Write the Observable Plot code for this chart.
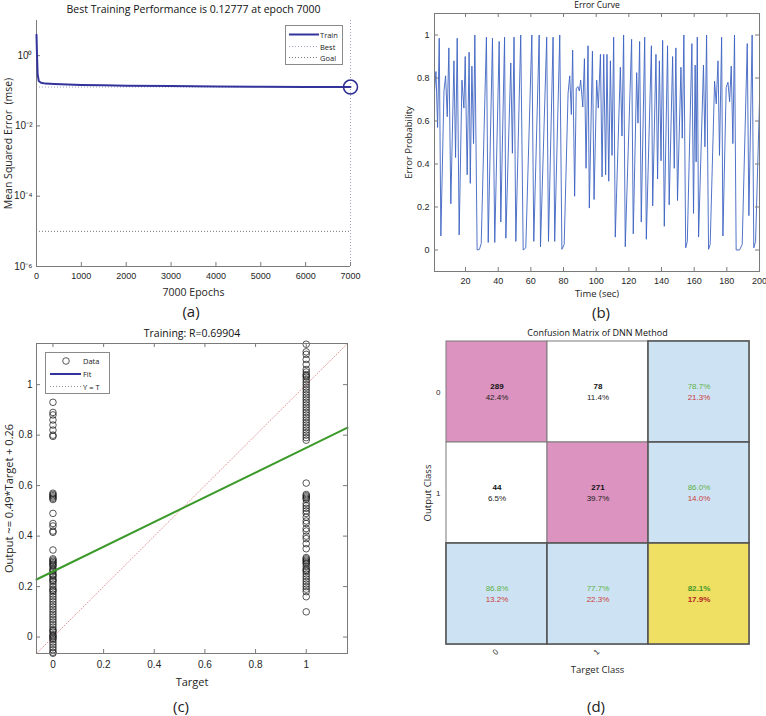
<!DOCTYPE html>
<html><head><meta charset="utf-8">
<script src="https://cdn.jsdelivr.net/npm/d3@7"></script>
<script src="https://cdn.jsdelivr.net/npm/@observablehq/plot@0.6"></script>
<style>
body{margin:0;background:#fff;}
#root{position:relative;width:766px;height:716px;overflow:hidden;background:#fff;}
.panel{position:absolute;}
.cap{position:absolute;font-family:"Open Sans",sans-serif;font-size:15px;color:#222;transform:translate(-50%,-50%);white-space:nowrap;line-height:1;}
.legend{position:absolute;background:#fff;border:1px solid #8a8a8a;box-sizing:border-box;}
.legend svg{display:block;}
</style></head><body><div id="root"></div>
<script>
// ---------- Panel (a) data ----------
const epochs   = [0, 10, 25, 50, 100, 200, 400, 700, 1000, 1500, 2000, 3000, 4000, 5000, 6000, 7000];
const trainMSE = [3.9, 1.2, 0.3, 0.19, 0.17, 0.16, 0.155, 0.15, 0.147, 0.143, 0.14, 0.136, 0.133, 0.131, 0.129, 0.12777];
const bestEpoch = 7000, bestPerf = 0.12777, goalMSE = 1e-5;
const xTicksA = [0, 1000, 2000, 3000, 4000, 5000, 6000, 7000];
const yTicksA = [1e-6, 1e-4, 1e-2, 1];
const yTickLabelsA = ["10⁻⁶", "10⁻⁴", "10⁻²", "10⁰"];
const titleA = "Best Training Performance is 0.12777 at epoch 7000";

// ---------- Panel (b) data ----------
const errTime = [1, 1.9, 2.9, 3.9, 4.9, 6.8, 7.8, 8.8, 9.8, 11,
  12.9, 13.9, 14.9, 16.1, 17.8, 19, 19.8, 21, 22.2, 22.9,
  23.9, 24.9, 25.7, 27.1, 28.5, 29.6, 32.8, 33.9, 36.5, 37.9,
  40.6, 41.6, 43.9, 44.7, 47.7, 48.7, 49.7, 50.8, 53.8, 55.3,
  56.9, 60.6, 61.8, 65.1, 65.9, 69.7, 70.8, 73.6, 74.6, 77.7,
  79, 80.4, 82.8, 83.8, 84.8, 85.6, 86.8, 87.8, 88.8, 89.7,
  90.5, 91.8, 92.8, 93.8, 95, 95.8, 97.7, 98.7, 100.3, 101.3,
  102.6, 103.6, 104.6, 105.8, 106.6, 107.7, 108.7, 109.7, 110.7, 111.7,
  114.8, 115.8, 116.8, 117.8, 121.7, 122.7, 124.8, 125.6, 126.6, 127.6,
  129.7, 130.7, 133.8, 134.6, 136.6, 137.6, 138.7, 139.7, 140.7, 141.7,
  143.7, 144.7, 146.8, 147.8, 148.8, 149.8, 151.9, 152.7, 153.7, 154.8,
  155.8, 158.6, 159.6, 160.6, 161.2, 161.9, 162.7, 165.7, 166.6, 167.6,
  168.8, 169.8, 172.5, 173.5, 174.6, 175.5, 176.8, 177.6, 179.6, 180.7,
  181.7, 182.7, 183.7, 184.7, 185.7, 187.8, 189.4, 192.5, 193.5, 195.5,
  196.5, 197.6, 200];
const errProb = [0.74, 0.83, 0.57, 0.985, 0.065, 0.74, 0.81, 0.62, 0.94, 0.215,
  0.88, 0.43, 0.985, 0.07, 0.79, 0.66, 0.9, 0.35, 0.92, 0.31,
  0.855, 0.495, 1.0, 0.0, 0.003, 0.03, 0.99, 0.035, 0.985, 0.035,
  0.97, 0.13, 0.99, 0.055, 0.87, 0.45, 0.99, 0.04, 1.0, 0.0,
  0.01, 1.0, 0.04, 1.0, 0.015, 0.99, 0.04, 0.99, 0.04, 1.0,
  0.003, 0.026, 0.73, 0.81, 0.63, 0.93, 0.25, 0.75, 0.76, 0.74,
  0.79, 0.665, 0.89, 0.38, 0.95, 0.195, 0.925, 0.235, 0.79, 0.66,
  0.91, 0.34, 0.91, 0.35, 0.91, 0.32, 0.88, 0.44, 0.99, 0.06,
  0.85, 0.53, 1.0, 0.015, 0.98, 0.075, 0.825, 0.59, 0.97, 0.13,
  0.99, 0.05, 0.95, 0.205, 0.91, 0.33, 0.88, 0.415, 0.975, 0.11,
  0.95, 0.21, 0.9, 0.38, 0.94, 0.23, 0.85, 0.52, 1.0, 0.01,
  0.04, 0.96, 0.17, 0.86, 0.41, 0.99, 0.06, 0.86, 0.48, 1.0,
  0.003, 0.026, 0.785, 0.68, 0.88, 0.44, 0.99, 0.065, 0.755, 0.78,
  0.69, 0.855, 0.495, 1.0, 0.0, 0.0, 0.026, 0.96, 0.16, 1.0,
  0.01, 0.04, 0.69];
const xTicksB = [20, 40, 60, 80, 100, 120, 140, 160, 180, 200];
const yTicksB = [0, 0.2, 0.4, 0.6, 0.8, 1];

// ---------- Panel (c) data ----------
const outputsTarget0 = [0.93, 0.89, 0.88, 0.86, 0.84, 0.82, 0.80, 0.795,
  0.57, 0.565, 0.56, 0.555, 0.55, 0.545, 0.49, 0.45, 0.44, 0.42, 0.415, 0.345,
  0.31, 0.305, 0.30, 0.295, 0.29, 0.285, 0.28, 0.27, 0.265, 0.26, 0.25, 0.245, 0.24,
  0.23, 0.225, 0.22, 0.21, 0.20, 0.19, 0.185, 0.18, 0.17, 0.16, 0.15, 0.14, 0.13,
  0.12, 0.11, 0.10, 0.09, 0.08, 0.07, 0.06, 0.05, 0.04, 0.03, 0.025, 0.02, 0.01,
  0.005, 0, -0.005, -0.01, -0.02, -0.03, -0.04, -0.05, -0.06, -0.064];
const outputsTarget1 = [1.16, 1.13, 1.12, 1.10, 1.08, 1.06, 1.05, 1.04, 1.035, 1.03,
  1.02, 1.01, 1.0, 0.99, 0.98, 0.97, 0.96, 0.95, 0.94, 0.93, 0.92, 0.91, 0.90,
  0.89, 0.88, 0.87, 0.86, 0.85, 0.84, 0.83, 0.82, 0.81, 0.80, 0.79, 0.78,
  0.61, 0.565, 0.56, 0.555, 0.55, 0.545, 0.53, 0.52, 0.51, 0.50, 0.49, 0.475,
  0.46, 0.45, 0.43, 0.42, 0.40, 0.39, 0.37, 0.35,
  0.315, 0.31, 0.305, 0.30, 0.295, 0.29, 0.28, 0.27, 0.265, 0.26, 0.25, 0.24,
  0.23, 0.22, 0.21, 0.20, 0.19, 0.18, 0.16, 0.10];
const fitSlope = 0.49, fitIntercept = 0.26;
const axisRangeC = [-0.065, 1.163];
const ticksC = [0, 0.2, 0.4, 0.6, 0.8, 1];
const titleC = "Training: R=0.69904";

// ---------- Panel (d) data ----------
const classLabels = ["0", "1"];
const cellCounts   = [[289, 78], [44, 271]];   // [output][target]
const cellPercents = [[42.4, 11.4], [6.5, 39.7]];
const rowCorrect = [78.7, 86.0], rowWrong = [21.3, 14.0];
const colCorrect = [86.8, 77.7], colWrong = [13.2, 22.3];
const overallCorrect = 82.1, overallWrong = 17.9;

// ---------- helpers ----------
const root = document.getElementById("root");
function place(node, left, top) {
  const d = document.createElement("div");
  d.className = "panel"; d.style.left = left + "px"; d.style.top = top + "px";
  d.appendChild(node); root.appendChild(d);
}
function caption(txt, x, y) {
  const d = document.createElement("div"); d.className = "cap";
  d.style.left = x + "px"; d.style.top = y + "px"; d.textContent = txt; root.appendChild(d);
}
const TICKFONT = "'Liberation Sans', Arial, sans-serif";
const LABFONT = "'Open Sans', sans-serif";
const INK = "#262626";
const AXC = "#7a7a7a";
const plain = d => String(d);
const T = {textAnchor: "middle", lineAnchor: "middle", fontFamily: LABFONT};

// ---------- Panel (a) ----------
{
  const W = 383, H = 300, mL = 36, mR = 33, mT = 20, mB = 34;
  const fw = W - mL - mR, fh = H - mT - mB;
  const train = epochs.map((e, i) => ({epoch: e, mse: trainMSE[i]}));
  const p = Plot.plot({
    width: W, height: H, marginLeft: mL, marginRight: mR, marginTop: mT, marginBottom: mB,
    x: {domain: [0, 7000]},
    y: {type: "log", domain: [1e-6, 10]},
    style: {fontFamily: TICKFONT, fontSize: "9px", color: INK, background: "white", overflow: "visible"},
    marks: [
      Plot.ruleY([goalMSE], {stroke: "#555", strokeDasharray: "1,2", strokeWidth: 0.8}),
      Plot.ruleY([bestPerf], {stroke: "#8a8ab8", strokeDasharray: "1,2", strokeWidth: 0.8}),
      Plot.ruleX([bestEpoch], {stroke: "#8a8ab8", strokeDasharray: "1,2", strokeWidth: 0.8}),
      Plot.ruleX([0], {stroke: AXC}),
      Plot.ruleY([1e-6], {stroke: AXC}),
      Plot.tickX(xTicksA, {x: d => d, insetTop: fh - 4, stroke: AXC}),
      Plot.tickY(yTicksA, {y: d => d, insetRight: fw - 4, stroke: AXC}),
      Plot.line(train, {x: "epoch", y: "mse", stroke: "#33339c", strokeWidth: 2}),
      Plot.dot([{epoch: bestEpoch, mse: bestPerf}], {x: "epoch", y: "mse", r: 7, stroke: "#2b2b92", strokeWidth: 1.5, fill: "none"}),
      Plot.axisX({ticks: xTicksA, tickFormat: plain, tickSize: 0, tickPadding: 6, label: null}),
      Plot.axisY({ticks: yTicksA, tickFormat: d => yTickLabelsA[yTicksA.indexOf(d)], tickSize: 0, tickPadding: 4, fontSize: 10, label: null}),
      Plot.text([titleA], {...T, text: d => d, frameAnchor: "top", dy: -11, fontSize: 10.5, fill: "#111"}),
      Plot.text(["7000 Epochs"], {...T, text: d => d, frameAnchor: "bottom", dy: 26, fontSize: 10.5, fill: INK}),
      Plot.text(["Mean Squared Error  (mse)"], {...T, text: d => d, frameAnchor: "left", dx: -28, rotate: -90, fontSize: 10.5, fill: INK})
    ]
  });
  place(p, 0, 0);
}

// ---------- Panel (b) ----------
{
  const W = 383, H = 300, mL = 51, mR = 7, mT = 13, mB = 29;
  const fw = W - mL - mR, fh = H - mT - mB;
  const series = errTime.map((t, i) => ({t, p: errProb[i]}));
  const p = Plot.plot({
    width: W, height: H, marginLeft: mL, marginRight: mR, marginTop: mT, marginBottom: mB,
    x: {domain: [1, 200]},
    y: {domain: [-0.1, 1.1]},
    style: {fontFamily: TICKFONT, fontSize: "9px", color: INK, background: "white", overflow: "visible"},
    marks: [
      Plot.line(series, {x: "t", y: "p", stroke: "#3d63c2", strokeWidth: 0.9}),
      Plot.frame({stroke: AXC}),
      Plot.tickX(xTicksB, {x: d => d, insetTop: fh - 4, stroke: AXC}),
      Plot.tickX(xTicksB, {x: d => d, insetBottom: fh - 4, stroke: AXC}),
      Plot.tickY(yTicksB, {y: d => d, insetRight: fw - 4, stroke: AXC}),
      Plot.tickY(yTicksB, {y: d => d, insetLeft: fw - 4, stroke: AXC}),
      Plot.axisX({ticks: xTicksB, tickFormat: plain, tickSize: 0, tickPadding: 6, label: null}),
      Plot.axisY({ticks: yTicksB, tickFormat: plain, tickSize: 0, tickPadding: 5, label: null}),
      Plot.text(["Error Curve"], {...T, text: d => d, frameAnchor: "top", dy: -8.5, fontSize: 8.5, fill: "#111"}),
      Plot.text(["Time (sec)"], {...T, text: d => d, frameAnchor: "bottom", dy: 22, fontSize: 9.5, fill: INK}),
      Plot.text(["Error Probability"], {...T, text: d => d, frameAnchor: "left", dx: -26, rotate: -90, fontSize: 9.5, fill: INK})
    ]
  });
  place(p, 383, 0);
}

// ---------- Panel (c) ----------
{
  const W = 383, H = 400, mL = 36, mR = 36, mT = 33, mB = 57;
  const fw = W - mL - mR, fh = H - mT - mB;
  const pts = outputsTarget0.map(o => ({target: 0, output: o}))
    .concat(outputsTarget1.map(o => ({target: 1, output: o})));
  const fitLine = axisRangeC.map(t => ({target: t, output: fitSlope * t + fitIntercept}));
  const idLine = axisRangeC.map(t => ({target: t, output: t}));
  const p = Plot.plot({
    width: W, height: H, marginLeft: mL, marginRight: mR, marginTop: mT, marginBottom: mB,
    x: {domain: axisRangeC},
    y: {domain: axisRangeC},
    style: {fontFamily: TICKFONT, fontSize: "10px", color: INK, background: "white", overflow: "visible"},
    marks: [
      Plot.line(idLine, {x: "target", y: "output", stroke: "#e07a7a", strokeDasharray: "1,2", strokeWidth: 0.8}),
      Plot.dot(pts, {x: "target", y: "output", r: 3.3, stroke: "#111", strokeWidth: 0.7, fill: "none"}),
      Plot.line(fitLine, {x: "target", y: "output", stroke: "#3b9a2a", strokeWidth: 2}),
      Plot.frame({stroke: AXC}),
      Plot.tickX(ticksC, {x: d => d, insetTop: fh - 4, stroke: AXC}),
      Plot.tickX(ticksC, {x: d => d, insetBottom: fh - 4, stroke: AXC}),
      Plot.tickY(ticksC, {y: d => d, insetRight: fw - 4, stroke: AXC}),
      Plot.tickY(ticksC, {y: d => d, insetLeft: fw - 4, stroke: AXC}),
      Plot.axisX({ticks: ticksC, tickFormat: plain, tickSize: 0, tickPadding: 7, label: null}),
      Plot.axisY({ticks: ticksC, tickFormat: plain, tickSize: 0, tickPadding: 4, label: null}),
      Plot.text([titleC], {...T, text: d => d, frameAnchor: "top", dy: -10, fontSize: 10.5, fill: "#111"}),
      Plot.text(["Target"], {...T, text: d => d, frameAnchor: "bottom", dy: 29, fontSize: 11, fill: INK}),
      Plot.text(["Output ~= 0.49*Target + 0.26"], {...T, text: d => d, frameAnchor: "left", dx: -27, rotate: -90, fontSize: 11, fill: INK})
    ]
  });
  place(p, 0, 310);
}

// ---------- Panel (d) ----------
{
  const W = 383, H = 400, mL = 62, mR = 17, mT = 31, mB = 66;
  const ALL = "all";
  const cells = [];
  classLabels.forEach((o, r) => classLabels.forEach((t, c) => cells.push({
    target: t, output: o, kind: r === c ? "hit" : "miss",
    top: String(cellCounts[r][c]), bottom: cellPercents[r][c].toFixed(1) + "%"})));
  classLabels.forEach((o, r) => cells.push({target: ALL, output: o, kind: "sum",
    top: rowCorrect[r].toFixed(1) + "%", bottom: rowWrong[r].toFixed(1) + "%"}));
  classLabels.forEach((t, c) => cells.push({target: t, output: ALL, kind: "sum",
    top: colCorrect[c].toFixed(1) + "%", bottom: colWrong[c].toFixed(1) + "%"}));
  cells.push({target: ALL, output: ALL, kind: "total",
    top: overallCorrect.toFixed(1) + "%", bottom: overallWrong.toFixed(1) + "%"});
  const fills = {hit: "#dc93bf", miss: "#ffffff", sum: "#cde3f3", total: "#efdf62"};
  const countCells = cells.filter(d => d.kind === "hit" || d.kind === "miss");
  const sumCells = cells.filter(d => d.kind === "sum");
  const totCells = cells.filter(d => d.kind === "total");
  const dom = [...classLabels, ALL];
  const p = Plot.plot({
    width: W, height: H, marginLeft: mL, marginRight: mR, marginTop: mT, marginBottom: mB,
    x: {type: "band", domain: dom, padding: 0},
    y: {type: "band", domain: dom, padding: 0},
    style: {fontFamily: TICKFONT, fontSize: "8px", color: INK, background: "white", overflow: "visible"},
    marks: [
      Plot.cell(cells, {x: "target", y: "output", fill: d => fills[d.kind], stroke: "#7a7a7a", strokeWidth: 1}),
      Plot.cell(sumCells.concat(totCells), {x: "target", y: "output", fill: d => fills[d.kind], stroke: "#555", strokeWidth: 1.6}),
      Plot.text(countCells, {x: "target", y: "output", text: "top", dy: -5.5, fontWeight: "bold", fill: "#111", fontSize: 8}),
      Plot.text(countCells, {x: "target", y: "output", text: "bottom", dy: 5.5, fill: "#222", fontSize: 8}),
      Plot.text(sumCells, {x: "target", y: "output", text: "top", dy: -5.5, fill: "#5cb146", fontSize: 8}),
      Plot.text(sumCells, {x: "target", y: "output", text: "bottom", dy: 5.5, fill: "#cc3b3b", fontSize: 8}),
      Plot.text(totCells, {x: "target", y: "output", text: "top", dy: -5.5, fill: "#3f9a2c", fontWeight: "bold", fontSize: 8}),
      Plot.text(totCells, {x: "target", y: "output", text: "bottom", dy: 5.5, fill: "#b42424", fontWeight: "bold", fontSize: 8}),
      Plot.axisX({ticks: classLabels, tickSize: 0, tickPadding: 6, tickRotate: -45, label: null}),
      Plot.axisY({ticks: classLabels, tickSize: 0, tickPadding: 5, label: null}),
      Plot.text(["Confusion Matrix of DNN Method"], {...T, text: d => d, frameAnchor: "top", dy: -8, fontSize: 9, fill: "#111"}),
      Plot.text(["Target Class"], {...T, text: d => d, frameAnchor: "bottom", dy: 25, fontSize: 9.5, fill: INK}),
      Plot.text(["Output Class"], {...T, text: d => d, frameAnchor: "left", dx: -18, rotate: -90, fontSize: 9.5, fill: INK})
    ]
  });
  place(p, 383, 310);
}

// ---------- Legends ----------
function legend(left, top, w, h, rows) {
  const d = document.createElement("div"); d.className = "legend";
  d.style.left = left + "px"; d.style.top = top + "px"; d.style.width = w + "px"; d.style.height = h + "px";
  const ns = "http://www.w3.org/2000/svg";
  const s = document.createElementNS(ns, "svg"); s.setAttribute("width", w - 2); s.setAttribute("height", h - 2);
  rows.forEach(r => {
    let g;
    if (r.type === "dot") {
      g = document.createElementNS(ns, "circle");
      g.setAttribute("cx", (r.x1 + r.x2) / 2); g.setAttribute("cy", r.y); g.setAttribute("r", 3.3);
      g.setAttribute("fill", "none"); g.setAttribute("stroke", r.color); g.setAttribute("stroke-width", 0.7);
    } else {
      g = document.createElementNS(ns, "line");
      g.setAttribute("x1", r.x1); g.setAttribute("x2", r.x2); g.setAttribute("y1", r.y); g.setAttribute("y2", r.y);
      g.setAttribute("stroke", r.color); g.setAttribute("stroke-width", r.width);
      if (r.dash) g.setAttribute("stroke-dasharray", r.dash);
    }
    s.appendChild(g);
    const t = document.createElementNS(ns, "text");
    t.setAttribute("x", r.tx); t.setAttribute("y", r.y); t.setAttribute("dominant-baseline", "central");
    t.setAttribute("font-family", "'Open Sans', sans-serif"); t.setAttribute("font-size", r.fs || 7.5); t.setAttribute("fill", "#222");
    t.textContent = r.label; s.appendChild(t);
  });
  d.appendChild(s); root.appendChild(d);
}
legend(285, 25, 58, 40, [
  {type: "line", label: "Train", x1: 3, x2: 33, y: 8.5, tx: 34, color: "#33339c", width: 2},
  {type: "line", label: "Best", x1: 3, x2: 33, y: 20.5, tx: 34, color: "#8a8ab8", width: 0.8, dash: "1,2"},
  {type: "line", label: "Goal", x1: 3, x2: 33, y: 31.5, tx: 34, color: "#555", width: 0.8, dash: "1,2"}
]);
legend(45, 352, 65, 42, [
  {type: "dot", label: "Data", x1: 4, x2: 36, y: 8, tx: 37, color: "#111"},
  {type: "line", label: "Fit", x1: 4, x2: 35, y: 21, tx: 37, color: "#33339c", width: 2},
  {type: "line", label: "Y = T", x1: 4, x2: 35, y: 33.5, tx: 37, color: "#777", width: 0.8, dash: "1,2"}
]);

caption("(a)", 191, 311);
caption("(b)", 601, 312);
caption("(c)", 181, 706);
caption("(d)", 596, 706);
</script></body></html>
